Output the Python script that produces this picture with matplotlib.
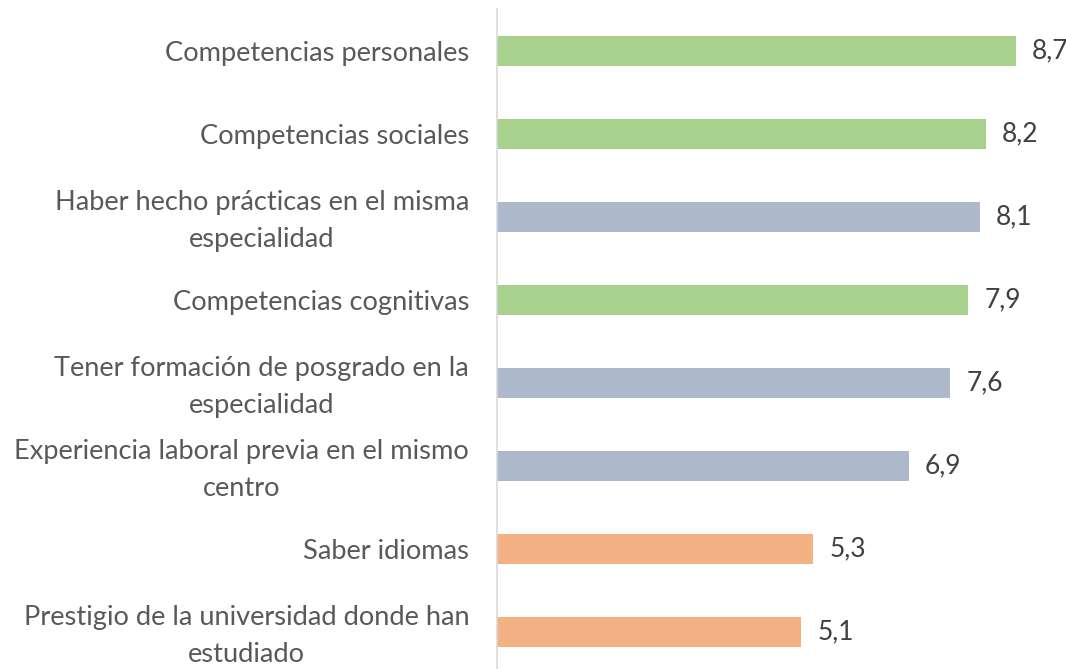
import matplotlib
matplotlib.use("Agg")
import matplotlib.pyplot as plt
from matplotlib.transforms import ScaledTranslation

categories = [
    "Competencias personales",
    "Competencias sociales",
    "Haber hecho prácticas en el misma\nespecialidad",
    "Competencias cognitivas",
    "Tener formación de posgrado en la\nespecialidad",
    "Experiencia laboral previa en el mismo\ncentro",
    "Saber idiomas",
    "Prestigio de la universidad donde han\nestudiado",
]
values = [8.7, 8.2, 8.1, 7.9, 7.6, 6.9, 5.3, 5.1]
groups = ["comp", "comp", "exp", "comp", "exp", "exp", "other", "other"]
value_labels = ["8,7", "8,2", "8,1", "7,9", "7,6", "6,9", "5,3", "5,1"]

group_colors = {"comp": "#A9D18E", "exp": "#ADB9CA", "other": "#F4B183"}

plt.rcParams["font.family"] = ["Lato", "DejaVu Sans"]

fig = plt.figure(figsize=(10.66, 6.69), dpi=100)
ax = fig.add_axes([497 / 1066, 0.0, 1 - 497 / 1066, (669 - 9.5) / 669])

ypos = list(range(len(categories)))
ax.barh(ypos, values, height=0.36,
        color=[group_colors[g] for g in groups], zorder=2)

for y, v, lab in zip(ypos, values, value_labels):
    ax.annotate(lab, xy=(v, y), xytext=(16, 0), textcoords="offset pixels",
                va="center", ha="left", fontsize=19, color="#404040")

ax.set_xlim(0, 9.54)
ax.set_ylim(7.5 - 4.5 / 83, -0.5)
ax.set_yticks(ypos)
ax.set_yticklabels(categories, fontsize=19.6, color="#595959",
                   multialignment="center", linespacing=1.58)
ax.tick_params(axis="y", length=0, pad=20)
shift = ScaledTranslation(0, 4 / 100, fig.dpi_scale_trans)
for lbl in ax.get_yticklabels():
    if "\n" in lbl.get_text():
        lbl.set_transform(lbl.get_transform() + shift)
ax.set_xticks([])
for s in ["top", "right", "bottom"]:
    ax.spines[s].set_visible(False)
ax.spines["left"].set_color("#D9D9D9")
ax.spines["left"].set_linewidth(1.2)

fig.savefig("out.png", dpi=100)
